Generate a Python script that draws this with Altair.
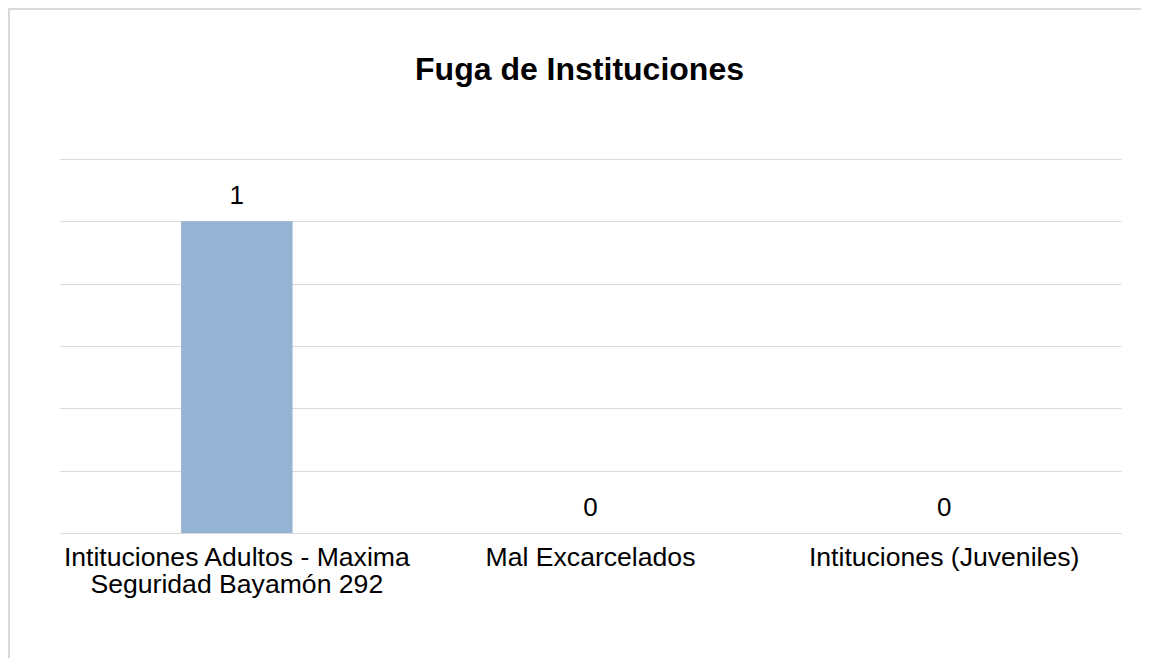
import altair as alt
import pandas as pd

categories = [
    "Intituciones Adultos - Maxima Seguridad Bayamón 292",
    "Mal Excarcelados",
    "Intituciones (Juveniles)",
]
values = [1, 0, 0]
y_ticks = [0, 0.2, 0.4, 0.6, 0.8, 1.0, 1.2]
title_text = "Fuga de Instituciones"

df = pd.DataFrame({"cat": categories, "val": values})

FONT = "Liberation Sans"
GRID = "#d9d9d9"

label_expr = (
    "datum.label == 'Intituciones Adultos - Maxima Seguridad Bayamón 292' ? "
    "['Intituciones Adultos - Maxima', 'Seguridad Bayamón 292'] : datum.label"
)

x_enc = alt.X(
    "cat:N",
    sort=categories,
    title=None,
    scale=alt.Scale(paddingInner=0.685, paddingOuter=0.3425),
    axis=alt.Axis(
        labelAngle=0,
        labelFont=FONT,
        labelFontSize=26.6,
        labelColor="#000000",
        labelPadding=11,
        labelLineHeight=27,
        labelExpr=label_expr,
        labelLimit=0,
        domainColor=GRID,
        domainWidth=1,
        ticks=False,
        grid=False,
    ),
)

y_enc = alt.Y(
    "val:Q",
    title=None,
    scale=alt.Scale(domain=[0, 1.2], nice=False),
    axis=alt.Axis(
        values=y_ticks,
        labels=False,
        ticks=False,
        domain=False,
        grid=True,
        gridColor=GRID,
        gridWidth=1,
    ),
)

bars = alt.Chart(df).mark_bar(color="#95B3D3").encode(x=x_enc, y=y_enc)

text = alt.Chart(df).mark_text(
    font=FONT, fontSize=26, color="#000000", baseline="alphabetic", dy=-17
).encode(x=alt.X("cat:N", sort=categories), y="val:Q", text="val:Q")

title = alt.Chart(pd.DataFrame({"t": [title_text]})).mark_text(
    font=FONT, fontSize=32, fontWeight="bold", color="#000000",
    align="center", baseline="middle",
).encode(x=alt.value(519.5), y=alt.value(-89), text="t:N")

frame = alt.Chart(pd.DataFrame({"t": [title_text]})).mark_rect(
    fill=None, fillOpacity=0, stroke=GRID, strokeWidth=2
).encode(
    x=alt.value(-51), x2=alt.value(1400), y=alt.value(-150), y2=alt.value(900)
)

chart = (
    alt.layer(bars, text, title, frame)
    .properties(
        width=1061,
        height=374,
        padding={"left": 52, "top": 151, "right": 20, "bottom": 125},
        autosize=alt.AutoSizeParams(type="none"),
    )
    .configure_view(stroke=None)
)

chart.save("out.html", embed_options={"renderer": "svg", "actions": False})
